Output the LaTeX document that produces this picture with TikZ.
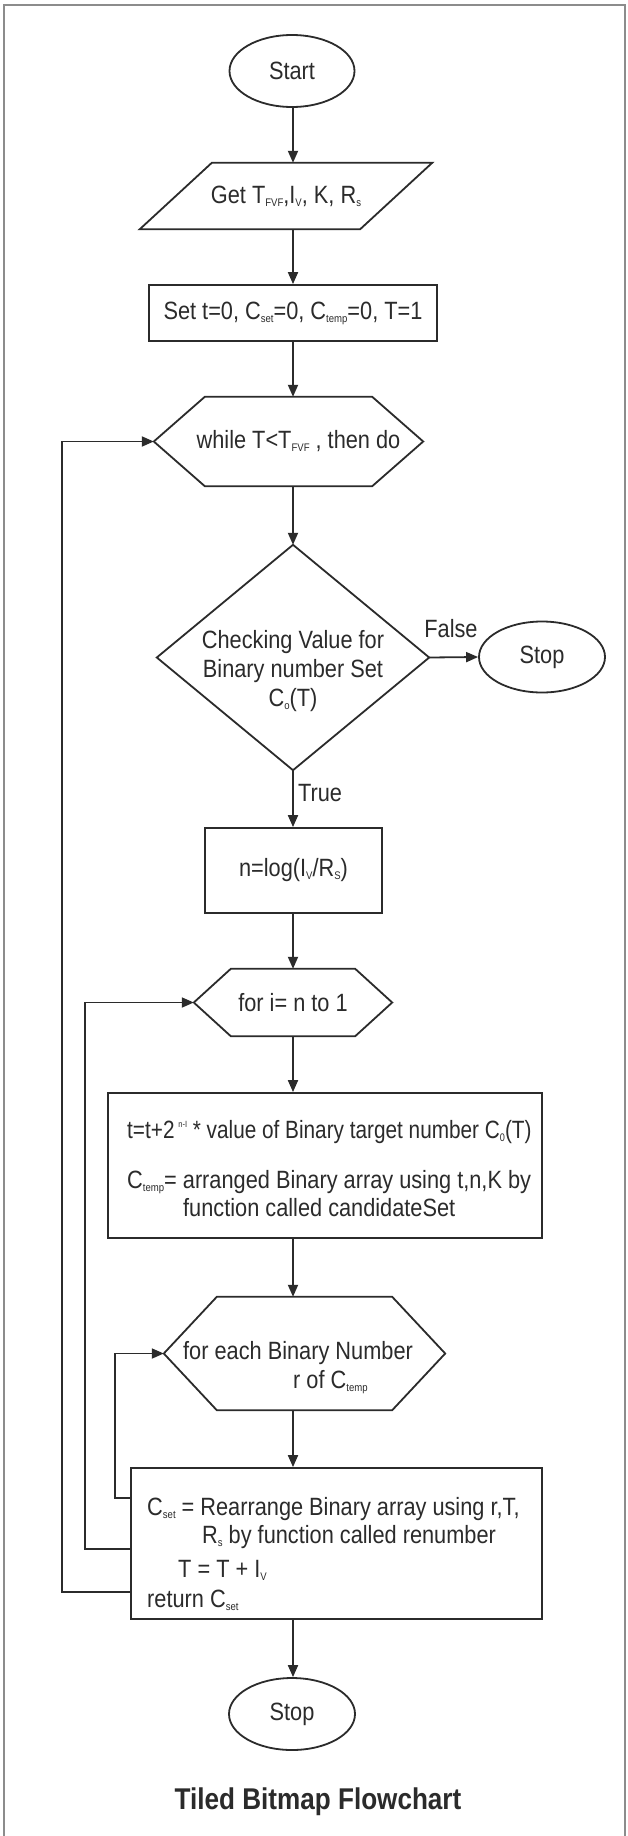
\documentclass[tikz,border=0pt]{standalone}
\usepackage{fontspec}
\setmainfont{Liberation Sans}[FakeStretch=0.87]
\usetikzlibrary{shapes.geometric,arrows.meta,calc}
\definecolor{ink}{HTML}{2B2B2B}
\definecolor{framegray}{HTML}{8C8C8C}
\newcommand\sbx[1]{\raisebox{-3pt}{\fontsize{11}{11}\selectfont #1}}
\newcommand\spx[1]{\raisebox{11pt}{\fontsize{9}{9}\selectfont #1}}
\newcommand\drawhex[2]{\draw[ln] (#1.west) -- ([xshift=#2]#1.north west) -- ([xshift=-#2]#1.north east) -- (#1.east) -- ([xshift=-#2]#1.south east) -- ([xshift=#2]#1.south west) -- cycle;}
\begin{document}
\begin{tikzpicture}[x=1pt,y=-1pt,
  font=\fontsize{25}{30}\selectfont, text=ink,
  ln/.style={draw=ink, line width=1.8pt},
  arr/.style={ln, -{Triangle[length=12pt,width=10pt]}},
  box/.style={ln, rectangle, inner sep=0pt},
  ghost/.style={rectangle, inner sep=0pt},
  oval/.style={ln, ellipse, inner sep=0pt},
  txt/.style={anchor=base west, inner sep=0pt}]
\useasboundingbox (0,0) rectangle (627,1836);
\fill[white] (0,0) rectangle (627,1836);
\draw[framegray, line width=1.5pt] (4,1836) -- (4,5) -- (625,5) -- (625,1836);

\coordinate (col) at (293,0);

\node[oval, minimum width=125pt, minimum height=72pt] (start) at (292,71) {Start};

\node[ghost, minimum width=220pt, minimum height=66pt] (get) at (286,196) {Get T\sbx{FVF},I\sbx{V}, K, R\sbx{s}};
\draw[ln] ([xshift=-36pt]get.south west) -- ([xshift=36pt]get.north west) -- ([xshift=36pt]get.north east) -- ([xshift=-36pt]get.south east) -- cycle;

\node[box, minimum width=288pt, minimum height=56pt] (set) at (293,313) {Set t=0, C\sbx{set}=0, C\sbx{temp}=0, T=1};

\node[ghost, minimum width=269pt, minimum height=89pt] (while) at (288.5,441.5) {\hspace*{20pt}while T<T\sbx{FVF} , then do};
\drawhex{while}{51pt}

\node[ghost, minimum width=272pt, minimum height=225pt] (chk) at (293,657.5) {};
\draw[ln] (chk.north) -- (chk.east) -- (chk.south) -- (chk.west) -- cycle;
\node[align=center, font=\fontsize{25}{29}\selectfont] (chktxt) at (293,671) {Checking Value for\\Binary number Set\\C\sbx{o}(T)};

\node[oval, minimum width=126pt, minimum height=71pt] (stop1) at (542,657) {Stop};
\node (false) at (451,629) {False};
\node (true) at (320,793) {True};

\node[box, minimum width=177pt, minimum height=85pt] (nb) at (293.5,870.5) {n=log(I\sbx{V}/R\sbx{S})};

\node[ghost, minimum width=198pt, minimum height=67pt] (fori) at (293,1002.5) {for i= n to 1};
\drawhex{fori}{37pt}

\node[box, minimum width=434pt, minimum height=145pt] (big) at (325,1165.5) {};
\node[txt] (b1) at (127,1138) {\scalebox{0.955}[1]{t=t+2\hspace{4pt}\spx{n-I} * value of Binary target number C\sbx{0}(T)}};
\node[txt] (b2) at (127,1188) {C\sbx{temp}= arranged Binary array using t,n,K by};
\node[txt] (b3) at (183,1216) {function called candidateSet};

\node[ghost, minimum width=281pt, minimum height=113pt] (each) at (304.5,1353.5) {};
\drawhex{each}{53pt}
\node[txt] (e1) at (183,1359) {for each Binary Number};
\node[txt] (e2) at (293,1388) {r of C\sbx{temp}};

\node[box, minimum width=411pt, minimum height=151pt] (last) at (336.5,1543.5) {};
\node[txt] (l1) at (147,1515) {C\sbx{set} = Rearrange Binary array using r,T,};
\node[txt] (l2) at (202,1543) {R\sbx{s} by function called renumber};
\node[txt] (l3) at (178,1577) {T = T + I\sbx{V}};
\node[txt] (l4) at (147,1607) {return C\sbx{set}};

\node[oval, minimum width=126pt, minimum height=72pt] (stop2) at (292,1714) {Stop};

\node[font=\bfseries\fontsize{30}{36}\selectfont] (title) at (318,1802) {Tiled Bitmap Flowchart};

\draw[arr] (col |- start.south) -- (col |- get.north);
\draw[arr] (col |- get.south) -- (col |- set.north);
\draw[arr] (col |- set.south) -- (col |- while.north);
\draw[arr] (col |- while.south) -- (chk.north);
\draw[arr] (chk.east) -- (stop1.west);
\draw[arr] (chk.south) -- (col |- nb.north);
\draw[arr] (col |- nb.south) -- (col |- fori.north);
\draw[arr] (col |- fori.south) -- (col |- big.north);
\draw[arr] (col |- big.south) -- (col |- each.north);
\draw[arr] (col |- each.south) -- (col |- last.north);
\draw[arr] (col |- last.south) -- (col |- stop2.north);

\draw[arr] ([yshift=-48.5pt]last.west) -- ++(-68,0) |- (while.west);
\draw[arr] ([yshift=-5.5pt]last.west) -- ++(-45,0) |- (fori.west);
\draw[arr] ([yshift=45.5pt]last.west) -- ++(-15,0) |- (each.west);
\end{tikzpicture}
\end{document}
